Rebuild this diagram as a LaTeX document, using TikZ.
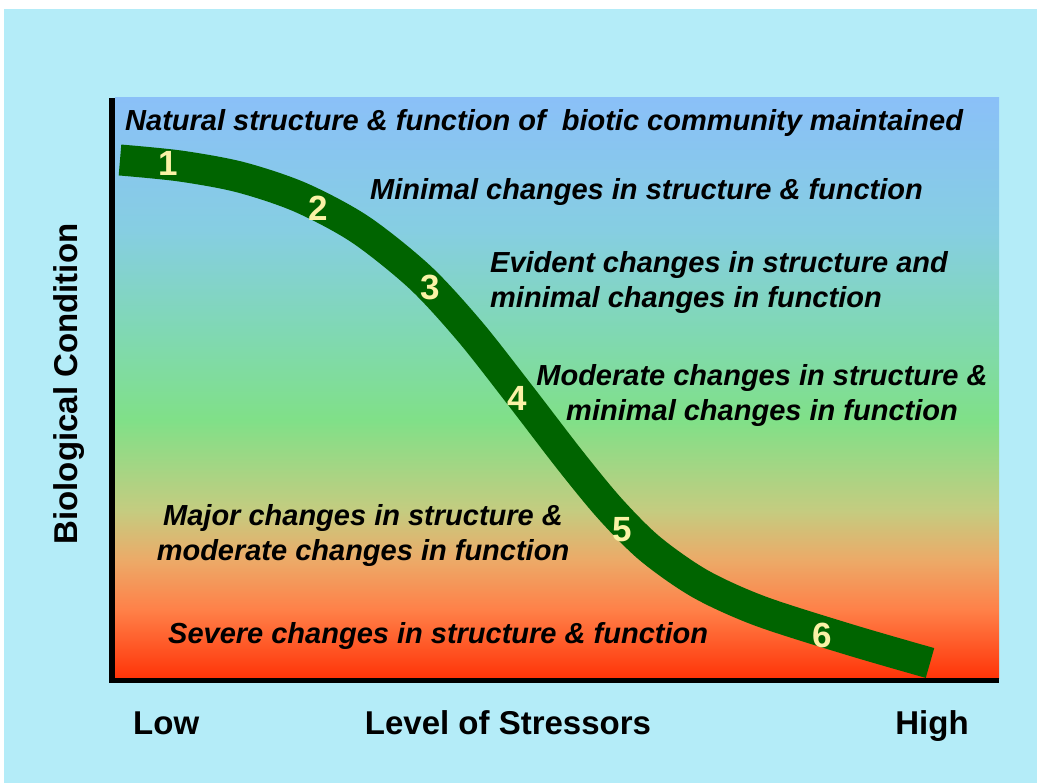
\documentclass[tikz,border=0pt]{standalone}
\usepackage{fontspec}
\setmainfont{Liberation Sans}
\definecolor{bgcyan}{RGB}{180,236,248}
\definecolor{bandgreen}{RGB}{0,100,0}
\definecolor{numyellow}{RGB}{250,242,166}
\definecolor{gA}{RGB}{138,192,248}
\definecolor{gB}{RGB}{134,206,226}
\definecolor{gC}{RGB}{128,216,180}
\definecolor{gD}{RGB}{128,224,136}
\definecolor{gE}{RGB}{196,204,128}
\definecolor{gF}{RGB}{236,170,104}
\definecolor{gG}{RGB}{255,128,72}
\definecolor{gH}{RGB}{255,52,8}
\pgfdeclareverticalshading{bggrad}{100bp}{color(0bp)=(gH); color(25bp)=(gH); color(30.86bp)=(gG); color(35.17bp)=(gF); color(39.48bp)=(gE); color(47.24bp)=(gD); color(55bp)=(gC); color(63.62bp)=(gB); color(75bp)=(gA); color(100bp)=(gA)}
\begin{document}
\begin{tikzpicture}[x=1pt,y=-1pt,
  lbl/.style={inner sep=0pt, font=\bfseries\itshape\fontsize{29}{35}\selectfont, text=black},
  axlbl/.style={inner sep=0pt, font=\bfseries\fontsize{33}{38}\selectfont, text=black},
  num/.style={inner sep=0pt, font=\bfseries\fontsize{35}{38}\selectfont, text=numyellow},
  band/.style={draw=bandgreen, line width=31pt, line cap=butt}]
\useasboundingbox (0,0) rectangle (1037,783);
\fill[white] (0,0) rectangle (1037,783);
\fill[bgcyan] (4,9) rectangle (1037,783);
% plot area
\shade[shading=bggrad] (115,98) rectangle (999,678);
\fill[black] (109,98) rectangle (115,683);
\fill[black] (109,678) rectangle (999,683);
% curve
\draw[band] plot[smooth, tension=0.5] coordinates {(120,160) (180,166) (240,177.1) (300,197.2) (360,229.3) (420,277.3) (470,331.6) (520,395.1) (570,460.1) (610,508.7) (650,548.7) (700,583.7) (760,611) (850,639.8) (930,663)};
% numbers
\node[num] (n1) at (168,163) {1};
\node[num] (n2) at (318,208) {2};
\node[num] (n3) at (430,287) {3};
\node[num] (n4) at (517,398) {4};
\node[num] (n5) at (622,530) {5};
\node[num] (n6) at (822,635) {6};
% descriptions
\node[lbl, anchor=base west] (t1) at (125,131) {Natural structure \& function of~ biotic community maintained};
\node[lbl, anchor=base west] (t2) at (370,200) {Minimal changes in structure \& function};
\node[lbl, anchor=north west, align=left] (t3) at (490,251) {Evident changes in structure and\\minimal changes in function};
\node[lbl, anchor=north, align=center] (t4) at (762,364) {Moderate changes in structure \&\\minimal changes in function};
\node[lbl, anchor=north, align=center] (t5) at (363,504) {Major changes in structure \&\\moderate changes in function};
\node[lbl, anchor=base west] (t6) at (168,643) {Severe changes in structure \& function};
% axis labels
\node[axlbl, anchor=base west] (low) at (133,734) {Low};
\node[axlbl, anchor=base] (stress) at (508,734) {Level of Stressors};
\node[axlbl, anchor=base] (high) at (932,734) {High};
\node[axlbl, anchor=base, rotate=90] (cond) at (77,384) {Biological Condition};
\end{tikzpicture}
\end{document}
